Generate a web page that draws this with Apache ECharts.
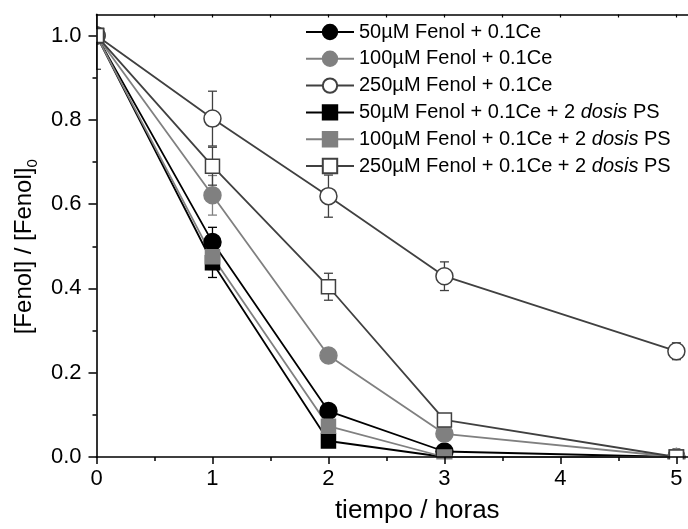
<!DOCTYPE html>
<html><head><meta charset="utf-8">
<script src="https://cdn.jsdelivr.net/npm/echarts@6/dist/echarts.min.js"></script>
<style>html,body{margin:0;padding:0;background:#fff}#c{width:688px;height:529px}</style>
</head><body><div id="c"></div>
<script>
// ---- data ----
const times = [0, 1, 2, 3, 5];
const seriesNames = [
  '50µM Fenol + 0.1Ce',
  '100µM Fenol + 0.1Ce',
  '250µM Fenol + 0.1Ce',
  '50µM Fenol + 0.1Ce + 2 dosis PS',
  '100µM Fenol + 0.1Ce + 2 dosis PS',
  '250µM Fenol + 0.1Ce + 2 dosis PS'
];
const fenol50Ce   = [1.0, 0.510, 0.109, 0.013, 0.0];
const fenol100Ce  = [1.0, 0.621, 0.241, 0.055, 0.0];
const fenol250Ce  = [1.0, 0.803, 0.619, 0.429, 0.251];
const fenol50PS   = [1.0, 0.461, 0.038, 0.0, 0.0];
const fenol100PS  = [1.0, 0.475, 0.073, 0.0, 0.0];
const fenol250PS  = [1.0, 0.690, 0.404, 0.088, 0.0];
const err50Ce  = [0, 0.035, 0.010, 0.005, 0];
const err100Ce = [0, 0.047, 0.010, 0.010, 0];
const err250Ce = [0.080, 0.065, 0.050, 0.034, 0.020];
const err50PS  = [0, 0.035, 0.005, 0, 0];
const err100PS = [0, 0.030, 0.005, 0, 0];
const err250PS = [0, 0.045, 0.032, 0.008, 0.005];
const xTickValues = [0, 1, 2, 3, 4, 5];
const xMinorValues = [0.5, 1.5, 2.5, 3.5, 4.5];
const yTickValues = [0, 0.2, 0.4, 0.6, 0.8, 1.0];
const yMinorValues = [0.1, 0.3, 0.5, 0.7, 0.9];
const xTitle = 'tiempo / horas';

const values = [fenol50Ce, fenol100Ce, fenol250Ce, fenol50PS, fenol100PS, fenol250PS];
const errors = [err50Ce, err100Ce, err250Ce, err50PS, err100PS, err250PS];
const looks = [
  {c: '#000000', fill: '#000000', sym: 'circle', size: 17},
  {c: '#808080', fill: '#808080', sym: 'circle', size: 17},
  {c: '#404040', fill: '#ffffff', sym: 'circle', size: 17},
  {c: '#000000', fill: '#000000', sym: 'rect', size: 14},
  {c: '#808080', fill: '#808080', sym: 'rect', size: 14},
  {c: '#404040', fill: '#ffffff', sym: 'rect', size: 14}
];

const FONT = 'Liberation Sans';
const series = [];
values.forEach((vals, i) => {
  const lk = looks[i];
  const errData = [];
  times.forEach((t, j) => {
    if (errors[i][j] > 0) errData.push([t, vals[j] - errors[i][j], vals[j] + errors[i][j]]);
  });
  series.push({
    type: 'custom', xAxisIndex: 0, yAxisIndex: 0, silent: true,
    encode: {x: 0, y: [1, 2]},
    data: errData,
    renderItem: (params, api) => {
      const x = api.value(0), lo = api.value(1), hi = api.value(2);
      const a = api.coord([x, hi]), b = api.coord([x, lo]);
      const w = 4.5, st = {stroke: lk.c, lineWidth: 1.3};
      return {type: 'group', children: [
        {type: 'line', shape: {x1: a[0], y1: a[1], x2: b[0], y2: b[1]}, style: st},
        {type: 'line', shape: {x1: a[0] - w, y1: a[1], x2: a[0] + w, y2: a[1]}, style: st},
        {type: 'line', shape: {x1: b[0] - w, y1: b[1], x2: b[0] + w, y2: b[1]}, style: st}
      ]};
    }
  });
  series.push({
    type: 'line', name: seriesNames[i], xAxisIndex: 0, yAxisIndex: 0,
    data: times.map((t, j) => [t, vals[j]]),
    symbol: lk.sym, symbolSize: lk.size, clip: false,
    lineStyle: {color: lk.c, width: 1.8},
    itemStyle: {color: lk.fill, borderColor: lk.c, borderWidth: 1.5, opacity: 1},
    emphasis: {disabled: true}
  });
});

const axisLine = {lineStyle: {color: '#000', width: 1.6}};
const option = {
  animation: false,
  backgroundColor: '#fff',
  grid: {left: 96.5, top: 14.5, width: 592.6, height: 444.5, containLabel: false},
  xAxis: [
    {type: 'value', position: 'bottom', min: 0, max: 5.1, interval: 1, z: 10,
     axisLine: axisLine, splitLine: {show: false},
     axisTick: {show: true, length: 7, customValues: xTickValues, lineStyle: {color: '#000', width: 1.5}},
     axisLabel: {customValues: xTickValues, margin: 11, fontSize: 22, fontFamily: FONT, color: '#000'},
     name: xTitle, nameLocation: 'middle', nameGap: 41,
     nameTextStyle: {fontSize: 26, fontFamily: FONT, color: '#000', padding: [0, 0, 0, 50]}},
    {type: 'value', position: 'bottom', min: 0, max: 5.1, z: 10,
     axisLine: {show: false}, splitLine: {show: false}, axisLabel: {show: false},
     axisTick: {show: true, length: 4, customValues: xMinorValues, lineStyle: {color: '#000', width: 1.5}}},
    {type: 'value', position: 'top', min: 0, max: 5.1, z: 10,
     axisLine: axisLine, splitLine: {show: false}, axisLabel: {show: false},
     axisTick: {show: true, inside: true, length: 3, customValues: [0.5, 1, 1.5, 2, 2.5, 3, 3.5, 4, 4.5, 5], lineStyle: {color: '#000', width: 1.2}}}
  ],
  yAxis: [
    {type: 'value', position: 'left', min: 0, max: 1.05, interval: 0.2, z: 10,
     axisLine: axisLine, splitLine: {show: false},
     axisTick: {show: true, length: 8, customValues: yTickValues, lineStyle: {color: '#000', width: 1.5}},
     axisLabel: {customValues: yTickValues, margin: 15, fontSize: 22, fontFamily: FONT, color: '#000',
                 formatter: v => v.toFixed(1)},
     name: '{a|[Fenol] / [Fenol]}{s|0}', nameLocation: 'middle', nameGap: 47,
     nameTextStyle: {fontFamily: FONT, color: '#000', padding: [0, 22, 0, 0],
       rich: {a: {fontSize: 24, fontFamily: FONT, color: '#000', lineHeight: 32},
              s: {fontSize: 15, fontFamily: FONT, color: '#000', lineHeight: 15, verticalAlign: 'bottom'}}}},
    {type: 'value', position: 'left', min: 0, max: 1.05, z: 10,
     axisLine: {show: false}, splitLine: {show: false}, axisLabel: {show: false},
     axisTick: {show: true, length: 4, customValues: yMinorValues, lineStyle: {color: '#000', width: 1.5}}}
  ],
  legend: {
    orient: 'vertical', left: 305, top: 22, padding: 0,
    itemWidth: 48, itemHeight: 18, itemGap: 6.8,
    data: seriesNames,
    formatter: n => '{n|' + n.replace(' dosis ', ' }{i|dosis}{n| ') + '}',
    textStyle: {color: '#000', fontFamily: FONT, fontSize: 20,
      rich: {n: {fontSize: 20, fontFamily: FONT, color: '#000', lineHeight: 18},
             i: {fontSize: 20, fontFamily: FONT, color: '#000', fontStyle: 'italic', lineHeight: 18}}}
  },
  graphic: [
    {type: 'rect', z: 5, silent: true, shape: {x: 0, y: 459.5, width: 688, height: 70}, style: {fill: '#fff'}},
    {type: 'rect', z: 5, silent: true, shape: {x: 0, y: 0, width: 96, height: 529}, style: {fill: '#fff'}},
    {type: 'rect', z: 5, silent: true, shape: {x: 0, y: 0, width: 688, height: 13.8}, style: {fill: '#fff'}}
  ],
  series: series
};
const chart = echarts.init(document.getElementById('c'), null, {renderer: 'canvas'});
chart.setOption(option);
</script>
</body></html>
